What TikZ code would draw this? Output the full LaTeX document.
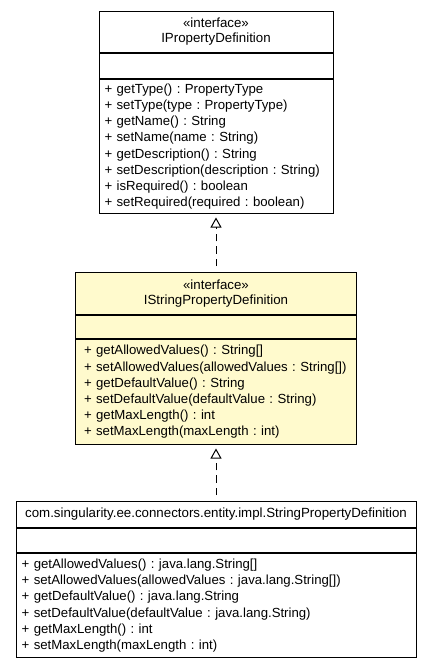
\documentclass[tikz,border=0pt]{standalone}
\usepackage{fontspec}
\setmainfont{Liberation Sans}
\usetikzlibrary{arrows.meta}
\definecolor{focusfill}{HTML}{FFFACD}
\frenchspacing

\begin{document}
\begin{tikzpicture}[x=1pt,y=-1pt,
  compart/.style={draw=black,line width=1pt,anchor=north,inner sep=0pt},
  classhead/.style={compart,align=center,font=\fontsize{13.3}{15}\selectfont},
  opslist/.style={compart,align=left,font=\fontsize{13.2}{16.2}\selectfont},
  realize/.style={line width=1pt,dash pattern=on 7.5pt off 4.8pt,
    -{Triangle[open,length=10pt,width=11pt]},shorten >=3.5pt,shorten <=6pt}]

\useasboundingbox (0,0) rectangle (432,667);

% the base interface
\node at (216,11) [classhead,minimum width=234pt,minimum height=41pt] (ipdhead) {«interface»\\IPropertyDefinition};
\node at (ipdhead.south) [compart,minimum width=234pt,minimum height=25pt] (ipdattr) {};
\node at (ipdattr.south) [opslist,minimum height=134pt,inner xsep=5.5pt,text width=223pt] (ipdops)
  {+ getType() : PropertyType\\
   + setType(type : PropertyType)\\
   + getName() : String\\
   + setName(name : String)\\
   + getDescription() : String\\
   + setDescription(description : String)\\
   + isRequired() : boolean\\
   + setRequired(required : boolean)};

% the string interface
\node at (216,272) [classhead,fill=focusfill,minimum width=281pt,minimum height=42pt] (strhead) {«interface»\\IStringPropertyDefinition};
\node at (strhead.south) [compart,fill=focusfill,minimum width=281pt,minimum height=23pt] (strattr) {};
\node at (strattr.south) [opslist,fill=focusfill,minimum height=105pt,inner xsep=8.5pt,text width=264pt] (strops)
  {+ getAllowedValues() : String[]\\
   + setAllowedValues(allowedValues : String[])\\
   + getDefaultValue() : String\\
   + setDefaultValue(defaultValue : String)\\
   + getMaxLength() : int\\
   + setMaxLength(maxLength : int)};

% the implementation
\node at (216,501) [classhead,minimum width=400pt,minimum height=26pt] (implhead) {com.singularity.ee.connectors.entity.impl.StringPropertyDefinition};
\node at (implhead.south) [compart,minimum width=400pt,minimum height=24pt] (implattr) {};
\node at (implattr.south) [opslist,minimum height=104pt,inner xsep=5.7pt,text width=388.6pt] (implops)
  {+ getAllowedValues() : java.lang.String[]\\
   + setAllowedValues(allowedValues : java.lang.String[])\\
   + getDefaultValue() : java.lang.String\\
   + setDefaultValue(defaultValue : java.lang.String)\\
   + getMaxLength() : int\\
   + setMaxLength(maxLength : int)};

\draw[realize] (strhead.north) -- (ipdops.south);
\draw[realize] (implhead.north) -- (strops.south);

\end{tikzpicture}
\end{document}
